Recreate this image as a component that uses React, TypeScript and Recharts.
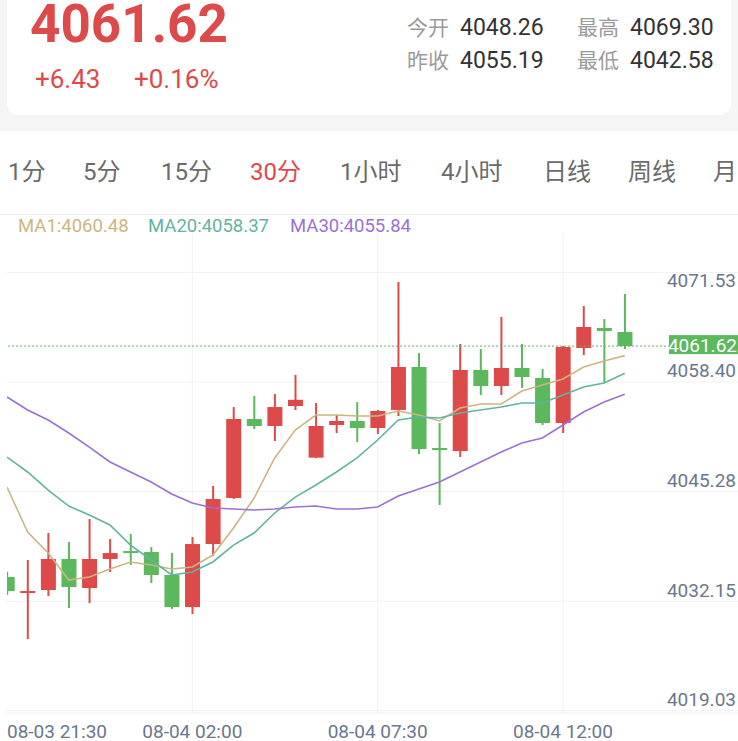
import React from "react";
import {
  ComposedChart,
  Bar,
  Line,
  XAxis,
  YAxis,
  CartesianGrid,
  ReferenceLine,
} from "recharts";

// 30-minute candles, 08-03 21:30 onwards
const openPrices = [
  4033.96, 4032.04, 4032.4, 4036.12, 4032.64, 4036.12, 4037.07, 4036.95, 4034.2, 4030.36,
  4037.91, 4043.42, 4052.89, 4052.05, 4054.44, 4048.26, 4052.17, 4052.65, 4051.81, 4053.97,
  4059.12, 4049.41, 4049.05, 4058.76, 4056.84, 4059.0, 4057.8, 4052.41, 4061.39, 4063.79,
  4063.31,
];
const closePrices = [
  4032.28, 4032.28, 4036.12, 4032.76, 4036.12, 4036.83, 4036.83, 4034.2, 4030.36, 4037.91,
  4043.3, 4052.89, 4052.05, 4054.32, 4055.19, 4052.05, 4052.65, 4051.81, 4053.85, 4059.12,
  4049.29, 4049.17, 4058.76, 4056.84, 4059.0, 4057.92, 4052.41, 4061.51, 4063.91, 4063.43,
  4061.62,
];
const highPrices = [
  4034.6, 4036.0, 4039.23, 4038.15, 4040.91, 4038.51, 4039.11, 4037.55, 4036.83, 4038.75,
  4044.86, 4054.32, 4055.64, 4055.88, 4058.16, 4054.8, 4053.37, 4054.92, 4053.97, 4069.3,
  4060.79, 4052.41, 4061.87, 4061.27, 4065.11, 4061.87, 4058.88, 4061.63, 4066.42, 4064.87,
  4067.86,
];
const lowPrices = [
  4031.8, 4026.53, 4031.68, 4030.25, 4030.84, 4034.56, 4035.4, 4033.24, 4030.13, 4029.53,
  4036.47, 4043.3, 4051.69, 4050.25, 4053.97, 4048.2, 4051.21, 4050.13, 4051.09, 4053.25,
  4048.69, 4042.58, 4048.33, 4055.76, 4055.76, 4056.6, 4052.17, 4051.21, 4060.55, 4057.2,
  4061.27,
];
const ma1 = [
  4044.74, 4039.35, 4036.83, 4033.6, 4033.96, 4034.92, 4035.76, 4035.4, 4034.92, 4035.16,
  4036.59, 4039.83, 4043.42, 4048.22, 4051.57, 4053.37, 4053.37, 4053.25, 4053.25, 4053.85,
  4053.37, 4052.65, 4054.21, 4054.68, 4054.68, 4056.24, 4056.96, 4057.68, 4059.12, 4059.84,
  4060.48,
];
const ma20 = [
  4048.33, 4046.54, 4044.38, 4042.46, 4041.39, 4040.19, 4037.79, 4036.0, 4034.2, 4034.56,
  4035.76, 4037.79, 4039.23, 4041.63, 4043.54, 4044.98, 4046.54, 4048.22, 4050.37, 4052.77,
  4053.13, 4053.01, 4053.61, 4053.97, 4054.32, 4054.8, 4054.8, 4055.76, 4056.72, 4057.2,
  4058.37,
];
const ma30 = [
  4055.52, 4053.97, 4052.77, 4051.21, 4049.53, 4047.74, 4046.54, 4045.34, 4043.9, 4042.82,
  4042.23, 4042.11, 4041.99, 4042.11, 4042.34, 4042.46, 4042.11, 4042.11, 4042.34, 4043.66,
  4044.5, 4045.34, 4046.54, 4047.74, 4048.93, 4050.01, 4050.61, 4052.17, 4053.73, 4054.92,
  4055.84,
];

const tickIndex = [0, 9, 18, 27];
const tickLabels = ["08-03 21:30", "08-04 02:00", "08-04 07:30", "08-04 12:00"];
const yTicks = [4019.03, 4032.15, 4045.28, 4058.4, 4071.53];
const lastPrice = 4061.62;
const periods = ["1分", "5分", "15分", "30分", "1小时", "4小时", "日线", "周线", "月"];
const periodX = [8, 83, 161, 250, 340, 441, 543, 628, 713];
const activePeriod = 3;

const RED = "#dc4a4a";
const GREEN = "#5cb85c";
const TAN = "#cdb583";
const TEAL = "#63b3a2";
const PURPLE = "#9a72d2";
const AXIS_TEXT = "#6a788f";

const X_DOMAIN: [number, number] = [0, 35.5];
const Y_DOMAIN: [number, number] = [4017.67, 4075.17];
const PLOT_H = 480;
const pxPerUnit = PLOT_H / (Y_DOMAIN[1] - Y_DOMAIN[0]);
// grid lines sit a few px under their labels
const gridValues = yTicks.map((v) => v - 9 / pxPerUnit);

const rows = openPrices.map((open, i) => ({
  i,
  open,
  close: closePrices[i],
  high: highPrices[i],
  low: lowPrices[i],
  range: [lowPrices[i], highPrices[i]],
  ma1: ma1[i],
  ma20: ma20[i],
  ma30: ma30[i],
}));

function Candle(props: any) {
  const { x, y, width, height, payload } = props;
  const { open, close, high, low } = payload;
  const top = Math.min(y, y + height);
  const h = Math.abs(height);
  const k = high === low ? 0 : h / (high - low);
  const py = (v: number) => top + (high - v) * k;
  const color = close >= open ? RED : GREEN;
  const cx = x + width / 2;
  const bodyTop = py(Math.max(open, close));
  const bodyH = Math.max(2, py(Math.min(open, close)) - bodyTop);
  return (
    <g>
      <line x1={cx} x2={cx} y1={top} y2={top + h} stroke={color} strokeWidth={2} />
      <rect x={x} y={bodyTop} width={width} height={bodyH} fill={color} />
    </g>
  );
}

function YTick(props: any) {
  const { y, payload } = props;
  const isTop = payload.value === yTicks[yTicks.length - 1];
  return (
    <text x={736} y={y + (isTop ? 24 : 4.5)} textAnchor="end" fontSize={19} fill={AXIS_TEXT}>
      {payload.value.toFixed(2)}
    </text>
  );
}

function XTick(props: any) {
  const { x, y, payload } = props;
  const k = tickIndex.indexOf(payload.value);
  return (
    <text
      x={x}
      y={y + 25}
      textAnchor={k === 0 ? "start" : "middle"}
      fontSize={19}
      fill={AXIS_TEXT}
    >
      {tickLabels[k]}
    </text>
  );
}

function PriceTag(props: any) {
  const vb = props.viewBox;
  const right = vb.x + vb.width;
  return (
    <g>
      <rect x={right - 69} y={vb.y - 11} width={69} height={19} fill={GREEN} />
      <text x={right - 1} y={vb.y + 5.5} textAnchor="end" fontSize={19} fill="#fff">
        {lastPrice.toFixed(2)}
      </text>
    </g>
  );
}

function Header() {
  return (
    <svg width={738} height={240} style={{ position: "absolute", left: 0, top: 0 }}>
      <rect x={0} y={0} width={738} height={131} fill="#f5f5f5" />
      <rect x={7} y={-20} width={724} height={135} rx={12} fill="#fff" />
      <text x={30} y={42} fontSize={53} fontWeight={700} fill={RED}>
        4061.62
      </text>
      <text x={35} y={88} fontSize={26} fill={RED}>
        +6.43
      </text>
      <text x={134} y={88} fontSize={26} fill={RED}>
        +0.16%
      </text>

      <text x={407} y={35} fontSize={21} fill="#9b9b9b">今开</text>
      <text x={460} y={35} fontSize={23} fill="#333">4048.26</text>
      <text x={577} y={35} fontSize={21} fill="#9b9b9b">最高</text>
      <text x={630} y={35} fontSize={23} fill="#333">4069.30</text>
      <text x={407} y={68} fontSize={21} fill="#9b9b9b">昨收</text>
      <text x={460} y={68} fontSize={23} fill="#333">4055.19</text>
      <text x={577} y={68} fontSize={21} fill="#9b9b9b">最低</text>
      <text x={630} y={68} fontSize={23} fill="#333">4042.58</text>

      {periods.map((p, k) => (
        <text
          key={p}
          x={periodX[k]}
          y={180}
          fontSize={24}
          fill={k === activePeriod ? "#e5464b" : "#6b6b6b"}
        >
          {p}
        </text>
      ))}
      <line x1={0} x2={738} y1={214.5} y2={214.5} stroke="#eeeeee" />

      <text x={18} y={232} fontSize={18.5} fill={TAN}>
        MA1:{ma1[ma1.length - 1].toFixed(2)}
      </text>
      <text x={148} y={232} fontSize={18.5} fill={TEAL}>
        MA20:{ma20[ma20.length - 1].toFixed(2)}
      </text>
      <text x={290} y={232} fontSize={18.5} fill={PURPLE}>
        MA30:{ma30[ma30.length - 1].toFixed(2)}
      </text>
    </svg>
  );
}

export default function App() {
  return (
    <div
      style={{
        position: "absolute",
        left: 0,
        top: 0,
        width: 738,
        height: 741,
        background: "#fff",
        overflow: "hidden",
        fontFamily: 'Roboto, "Noto Sans CJK SC", sans-serif',
      }}
    >
      <Header />
      <div style={{ position: "absolute", left: 0, top: 233 }}>
        <ComposedChart
          width={738}
          height={508}
          data={rows}
          margin={{ top: 0, right: 0, bottom: 0, left: 7 }}
        >
          <CartesianGrid
            stroke="#f1f1f1"
            horizontalValues={gridValues}
            verticalValues={tickIndex.slice(1)}
          />
          <XAxis
            dataKey="i"
            type="number"
            domain={X_DOMAIN}
            allowDataOverflow
            ticks={tickIndex}
            interval={0}
            height={28}
            tickSize={0}
            tickMargin={0}
            tickLine={false}
            axisLine={{ stroke: "#eeeeee" }}
            tick={(p: any) => <XTick {...p} />}
          />
          <YAxis
            type="number"
            domain={Y_DOMAIN}
            allowDataOverflow
            orientation="right"
            mirror
            width={70}
            ticks={yTicks}
            interval={0}
            tickSize={0}
            tickMargin={0}
            tickLine={false}
            axisLine={false}
            tick={(p: any) => <YTick {...p} />}
          />
          <Bar dataKey="range" barSize={15} shape={(p: any) => <Candle {...p} />} isAnimationActive={false} />
          <Line type="linear" dataKey="ma1" stroke={TAN} strokeWidth={1.6} dot={false} isAnimationActive={false} />
          <Line type="linear" dataKey="ma20" stroke={TEAL} strokeWidth={1.6} dot={false} isAnimationActive={false} />
          <Line type="linear" dataKey="ma30" stroke={PURPLE} strokeWidth={1.6} dot={false} isAnimationActive={false} />
          <ReferenceLine
            y={lastPrice}
            stroke={GREEN}
            strokeDasharray="2 2"
            label={(p: any) => <PriceTag {...p} />}
          />
        </ComposedChart>
      </div>
    </div>
  );
}
